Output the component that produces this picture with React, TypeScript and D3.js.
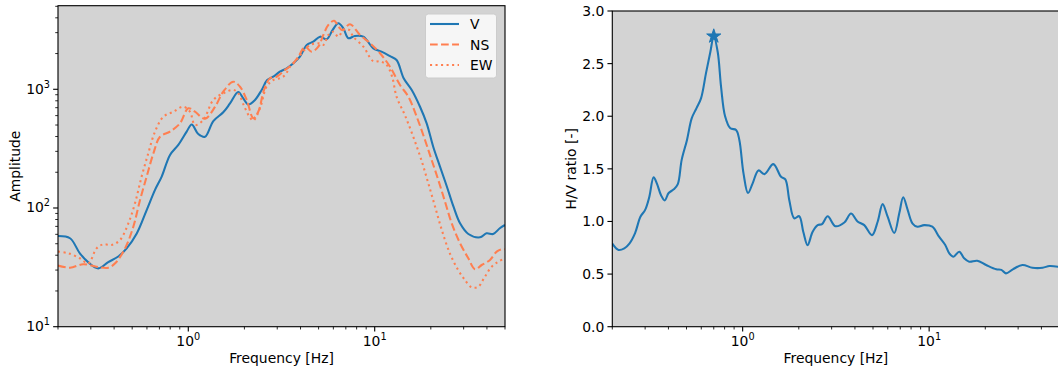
import React from "react";
import * as d3 from "d3";

// ---------- data ----------
const vFreq = [0.2, 0.232, 0.262, 0.29, 0.329, 0.372, 0.421, 0.467, 0.529, 0.598, 0.663, 0.72, 0.798, 0.884, 0.98, 1.043, 1.131, 1.229, 1.362, 1.54, 1.674, 1.853, 1.972, 2.098, 2.278, 2.475, 2.65, 2.855, 3.1, 3.37, 3.66, 3.97, 4.32, 4.68, 5.09, 5.52, 5.95, 6.38, 6.79, 7.22, 7.82, 8.69, 9.83, 10.87, 12.08, 13.1, 14.3, 15.8, 17.5, 19.0, 20.6, 22.4, 24.4, 26.5, 28.7, 31.8, 36.7, 39.8, 43.2, 46.9, 50];
const vAmp = [58, 55.6, 41.5, 35, 31, 35, 39, 45.7, 61, 96, 142, 184, 280, 340, 440, 505, 420, 398, 540, 640, 760, 950, 840, 745, 813, 986, 1197, 1276, 1406, 1502, 1655, 1883, 2362, 2518, 2775, 2636, 3163, 3600, 3263, 2694, 2813, 2775, 2213, 2074, 1900, 1766, 1239, 986, 713, 517, 328, 223, 151, 102, 74.3, 60.4, 56.6, 61.2, 60.4, 67.5, 72];

const nsFreq = [0.2, 0.232, 0.273, 0.322, 0.372, 0.405, 0.458, 0.507, 0.551, 0.598, 0.65, 0.705, 0.798, 0.903, 1.0, 1.086, 1.229, 1.39, 1.54, 1.743, 1.894, 2.058, 2.233, 2.374, 2.547, 2.744, 2.98, 3.3, 3.587, 3.892, 4.227, 4.59, 4.983, 5.3, 5.64, 6.05, 6.4, 6.7, 7.37, 8.34, 9.44, 10.68, 12.08, 13.67, 15.15, 16.8, 18.61, 20.22, 21.94, 23.83, 25.89, 28.69, 31.78, 34.52, 37.5, 41.56, 45.13, 48, 50];
const nsAmp = [32.7, 31.4, 33.6, 32.0, 31.4, 34.2, 45.7, 69.5, 117, 184, 289, 398, 440, 517, 692, 647, 565, 710, 955, 1159, 1051, 813, 570, 647, 986, 1239, 1276, 1455, 1603, 1883, 2285, 2074, 2285, 2865, 3484, 3784, 3365, 3150, 3530, 2865, 2443, 2010, 1549, 1086, 867, 587, 374, 253, 172, 113, 74.3, 50.5, 37.7, 30.5, 33.1, 36.5, 42.9, 44.9, 44.9];

const ewFreq = [0.2, 0.228, 0.262, 0.291, 0.322, 0.35, 0.388, 0.43, 0.477, 0.518, 0.562, 0.61, 0.663, 0.735, 0.831, 0.94, 1.021, 1.086, 1.204, 1.362, 1.54, 1.743, 1.85, 2.0, 2.13, 2.23, 2.424, 2.63, 2.855, 3.1, 3.3, 3.51, 3.81, 4.14, 4.5, 4.98, 5.3, 5.64, 6.0, 6.38, 6.79, 7.29, 7.67, 8.69, 9.83, 10.68, 11.6, 12.4, 13.1, 14.5, 16.1, 17.8, 19.4, 21.1, 22.9, 25.3, 28.0, 30.5, 33.1, 35.9, 39.0, 42.4, 46.0, 50];
const ewAmp = [42.9, 41.5, 37.7, 34.2, 45.7, 49.4, 48.8, 53.7, 74.3, 110, 184, 289, 440, 587, 647, 713, 647, 500, 551, 813, 925, 990, 930, 713, 587, 545, 692, 1051, 1197, 1239, 1314, 1549, 1766, 2094, 2362, 2443, 2362, 2865, 3056, 2775, 3163, 3163, 2775, 2285, 1722, 1722, 1603, 1276, 867, 608, 398, 253, 161, 102, 65.3, 41.5, 30.1, 24.7, 21.5, 21.7, 26.4, 32, 35.3, 37.7];

const hvFreq = [0.2, 0.216, 0.232, 0.247, 0.265, 0.283, 0.3, 0.316, 0.333, 0.347, 0.365, 0.382, 0.401, 0.427, 0.449, 0.471, 0.503, 0.533, 0.565, 0.598, 0.636, 0.671, 0.7, 0.735, 0.766, 0.805, 0.859, 0.922, 0.96, 1.01, 1.068, 1.13, 1.216, 1.31, 1.46, 1.606, 1.694, 1.78, 1.89, 2.01, 2.115, 2.23, 2.37, 2.525, 2.665, 2.857, 3.14, 3.51, 3.81, 4.13, 4.49, 4.94, 5.3, 5.63, 5.99, 6.5, 6.92, 7.26, 7.67, 8.15, 8.66, 9.4, 10.4, 11.3, 12.2, 12.8, 13.5, 14.5, 15.4, 16.4, 18.1, 20.2, 22.9, 24.4, 25.8, 28.1, 31.6, 35.8, 40.6, 44.2, 50];
const hvRatio = [0.79, 0.73, 0.745, 0.79, 0.89, 1.045, 1.11, 1.235, 1.42, 1.36, 1.25, 1.2, 1.27, 1.305, 1.355, 1.585, 1.775, 1.98, 2.075, 2.17, 2.41, 2.61, 2.76, 2.61, 2.28, 2.0, 1.885, 1.87, 1.775, 1.46, 1.27, 1.36, 1.485, 1.45, 1.545, 1.425, 1.4, 1.2, 1.03, 1.05, 0.9, 0.775, 0.9, 0.965, 0.975, 1.05, 0.955, 0.99, 1.075, 1.0, 0.965, 0.87, 1.0, 1.165, 1.045, 0.89, 1.08, 1.23, 1.11, 0.98, 0.95, 0.965, 0.95, 0.855, 0.776, 0.7, 0.665, 0.713, 0.65, 0.618, 0.627, 0.586, 0.545, 0.54, 0.507, 0.545, 0.586, 0.56, 0.56, 0.577, 0.567];

const peakFreq = [0.7];
const peakRatio = [2.76];

const xMajor = [1, 10];
const xMinor = [0.2, 0.3, 0.4, 0.5, 0.6, 0.7, 0.8, 0.9, 2, 3, 4, 5, 6, 7, 8, 9, 20, 30, 40, 50];
const yMajorLeft = [10, 100, 1000];
const yMinorLeft = [20, 30, 40, 50, 60, 70, 80, 90, 200, 300, 400, 500, 600, 700, 800, 900, 2000, 3000, 4000, 5000];
const yTicksRight = [0, 0.5, 1.0, 1.5, 2.0, 2.5, 3.0];
const legendLabels = ["V", "NS", "EW"];

// ---------- styles ----------
const BLUE = "#1f77b4";
const CORAL = "#ff7f50";
const BG = "#d3d3d3";
const FONT = "DejaVu Sans, sans-serif";
const FS = 13.9;
const LW = 2.08;

const L = { x0: 58, x1: 505, y0: 5.7, y1: 326.7 };
const R = { x0: 612.3, x1: 1059.5, y0: 11, y1: 326.7 };

const xL = d3.scaleLog().domain([0.2, 50]).range([L.x0, L.x1]);
const yL = d3.scaleLog().domain([10, 5060]).range([L.y1, L.y0]);
const xR = d3.scaleLog().domain([0.2, 50]).range([R.x0, R.x1]);
const yR = d3.scaleLinear().domain([0, 3]).range([R.y1, R.y0]);

function pathOf(fs: number[], vs: number[], xs: any, ys: any) {
  const pts: [number, number][] = fs.map((f, i) => [xs(f), ys(vs[i])]);
  return d3.line().curve(d3.curveCatmullRom.alpha(0.5))(pts) || "";
}

function Pow10({ x, y, exp, anchor }: { x: number; y: number; exp: number; anchor: string }) {
  return (
    <text x={x} y={y} fontFamily={FONT} fontSize={FS} textAnchor={anchor} fill="#000">
      10
      <tspan fontSize={FS * 0.7} dy={-6}>{exp}</tspan>
    </text>
  );
}

export default function App() {
  const lines = [
    { f: vFreq, a: vAmp, color: BLUE, dash: undefined },
    { f: nsFreq, a: nsAmp, color: CORAL, dash: "7.7 3.33" },
    { f: ewFreq, a: ewAmp, color: CORAL, dash: "2.08 3.44" },
  ];
  const star = d3.symbol().type(d3.symbolStar).size(62)() || "";
  return (
    <svg width={1058} height={371} style={{ position: "absolute", left: 0, top: 0 }} xmlns="http://www.w3.org/2000/svg">
      <defs>
        <clipPath id="clipL"><rect x={L.x0} y={L.y0} width={L.x1 - L.x0} height={L.y1 - L.y0} /></clipPath>
        <clipPath id="clipR"><rect x={R.x0} y={R.y0} width={R.x1 - R.x0} height={R.y1 - R.y0} /></clipPath>
      </defs>
      <rect width={1058} height={371} fill="#fff" />

      {/* ---------- left panel ---------- */}
      <rect x={L.x0} y={L.y0} width={L.x1 - L.x0} height={L.y1 - L.y0} fill={BG} />
      <g clipPath="url(#clipL)">
        {lines.map((s, i) => (
          <path key={i} d={pathOf(s.f, s.a, xL, yL)} fill="none" stroke={s.color} strokeWidth={LW} strokeDasharray={s.dash} />
        ))}
      </g>
      <rect x={L.x0} y={L.y0} width={L.x1 - L.x0} height={L.y1 - L.y0} fill="none" stroke="#000" strokeWidth={1.11} />
      {xMinor.map((t) => (
        <line key={"lxm" + t} x1={xL(t)} x2={xL(t)} y1={L.y1} y2={L.y1 + 2.78} stroke="#000" strokeWidth={0.83} />
      ))}
      {xMajor.map((t, i) => (
        <g key={"lxM" + t}>
          <line x1={xL(t)} x2={xL(t)} y1={L.y1} y2={L.y1 + 4.86} stroke="#000" strokeWidth={1.11} />
          <Pow10 x={xL(t)} y={345.5} exp={i} anchor="middle" />
        </g>
      ))}
      {yMinorLeft.map((t) => (
        <line key={"lym" + t} x1={L.x0 - 2.78} x2={L.x0} y1={yL(t)} y2={yL(t)} stroke="#000" strokeWidth={0.83} />
      ))}
      {yMajorLeft.map((t, i) => (
        <g key={"lyM" + t}>
          <line x1={L.x0 - 4.86} x2={L.x0} y1={yL(t)} y2={yL(t)} stroke="#000" strokeWidth={1.11} />
          <Pow10 x={L.x0 - 8} y={yL(t) + 4.5} exp={i + 1} anchor="end" />
        </g>
      ))}
      <text x={(L.x0 + L.x1) / 2} y={363} fontFamily={FONT} fontSize={FS} textAnchor="middle">Frequency [Hz]</text>
      <text transform={`translate(20,${(L.y0 + L.y1) / 2}) rotate(-90)`} fontFamily={FONT} fontSize={FS} textAnchor="middle">Amplitude</text>

      {/* legend */}
      <rect x={425.5} y={14} width={71} height={64} rx={2.8} fill="#fff" fillOpacity={0.8} stroke="#ccc" strokeWidth={1} />
      {lines.map((s, i) => (
        <g key={"leg" + i}>
          <line x1={430} x2={459} y1={24 + i * 20.5} y2={24 + i * 20.5} stroke={s.color} strokeWidth={LW} strokeDasharray={s.dash} />
          <text x={470} y={24 + i * 20.5 + 5} fontFamily={FONT} fontSize={FS}>{legendLabels[i]}</text>
        </g>
      ))}

      {/* ---------- right panel ---------- */}
      <rect x={R.x0} y={R.y0} width={R.x1 - R.x0} height={R.y1 - R.y0} fill={BG} />
      <g clipPath="url(#clipR)">
        <path d={pathOf(hvFreq, hvRatio, xR, yR)} fill="none" stroke={BLUE} strokeWidth={LW} />
      </g>
      {peakFreq.map((f, i) => (
        <path key={"pk" + i} d={star} transform={`translate(${xR(f)},${yR(peakRatio[i])})`} fill={BLUE} stroke={BLUE} strokeWidth={1} />
      ))}
      <rect x={R.x0} y={R.y0} width={R.x1 - R.x0} height={R.y1 - R.y0} fill="none" stroke="#000" strokeWidth={1.11} />
      {xMinor.map((t) => (
        <line key={"rxm" + t} x1={xR(t)} x2={xR(t)} y1={R.y1} y2={R.y1 + 2.78} stroke="#000" strokeWidth={0.83} />
      ))}
      {xMajor.map((t, i) => (
        <g key={"rxM" + t}>
          <line x1={xR(t)} x2={xR(t)} y1={R.y1} y2={R.y1 + 4.86} stroke="#000" strokeWidth={1.11} />
          <Pow10 x={xR(t)} y={345.5} exp={i} anchor="middle" />
        </g>
      ))}
      {yTicksRight.map((t) => (
        <g key={"ry" + t}>
          <line x1={R.x0 - 4.86} x2={R.x0} y1={yR(t)} y2={yR(t)} stroke="#000" strokeWidth={1.11} />
          <text x={R.x0 - 8} y={yR(t) + 5} fontFamily={FONT} fontSize={FS} textAnchor="end">{t.toFixed(1)}</text>
        </g>
      ))}
      <text x={(R.x0 + R.x1) / 2} y={363} fontFamily={FONT} fontSize={FS} textAnchor="middle">Frequency [Hz]</text>
      <text transform={`translate(575.5,${(R.y0 + R.y1) / 2}) rotate(-90)`} fontFamily={FONT} fontSize={FS} textAnchor="middle">H/V ratio [-]</text>
    </svg>
  );
}
